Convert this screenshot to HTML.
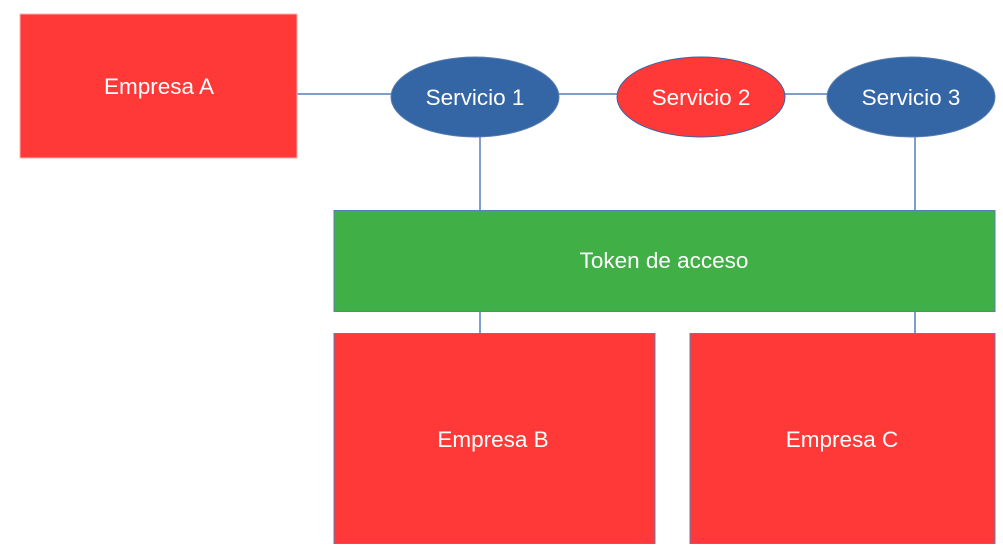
<!DOCTYPE html>
<html><head><meta charset="utf-8"><style>
html,body{margin:0;padding:0;background:#fff;}
svg{display:block;}
text{font-family:"Liberation Sans",sans-serif;font-size:22.5px;fill:#fff;}
</style></head><body>
<svg width="1003" height="556" viewBox="0 0 1003 556" xmlns="http://www.w3.org/2000/svg">
<g stroke="#7f9fc8" stroke-width="2" fill="none">
<line x1="297" y1="94" x2="391" y2="94"/>
<line x1="559" y1="94" x2="618" y2="94"/>
<line x1="784" y1="94" x2="828" y2="94"/>
<line x1="480" y1="137" x2="480" y2="211"/>
<line x1="915" y1="137" x2="915" y2="211"/>
<line x1="480" y1="311" x2="480" y2="334"/>
<line x1="915" y1="311" x2="915" y2="334"/>
</g>
<rect x="20" y="14" width="277" height="144" fill="#ff3838" stroke="#ffb0b0" stroke-width="1"/>
<text x="159" y="94" text-anchor="middle">Empresa A</text>
<ellipse cx="475" cy="97" rx="84" ry="40" fill="#3465a4" stroke="#5a7fb0"/>
<text x="475" y="105" text-anchor="middle">Servicio 1</text>
<ellipse cx="701" cy="97" rx="84" ry="40" fill="#ff3838" stroke="#3465a4"/>
<text x="701" y="105" text-anchor="middle">Servicio 2</text>
<ellipse cx="911" cy="97" rx="84" ry="40" fill="#3465a4" stroke="#5a7fb0"/>
<text x="911" y="105" text-anchor="middle">Servicio 3</text>
<rect x="334" y="210.5" width="661" height="101" fill="#3faf46" stroke="#5a7fb0"/>
<text x="664" y="268" text-anchor="middle">Token de acceso</text>
<rect x="334" y="333.5" width="321" height="210" fill="#ff3838" stroke="#5a7fb0"/>
<text x="493" y="447" text-anchor="middle">Empresa B</text>
<rect x="690" y="333.5" width="305" height="210" fill="#ff3838" stroke="#5a7fb0"/>
<text x="842" y="447" text-anchor="middle">Empresa C</text>
</svg>
</body></html>
